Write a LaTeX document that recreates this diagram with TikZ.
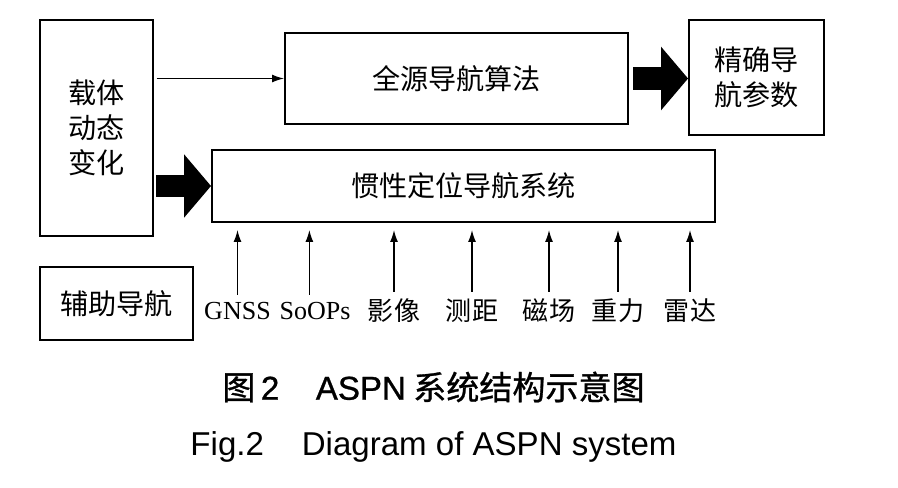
\documentclass[tikz,border=0pt]{standalone}
\usepackage{fontspec}
\setmainfont{Liberation Serif}
\newfontfamily\cjk{Noto Sans CJK SC}
\newfontfamily\cjkcap[FakeBold=0.9]{Noto Sans CJK SC}
\newfontfamily\capsf{Liberation Sans}
\newfontfamily\capsfmed[FakeBold=0.9]{Liberation Sans}
\usetikzlibrary{arrows.meta}
\begin{document}
\begin{tikzpicture}[x=0.025cm, y=-0.025cm,
  every node/.style={font=\cjk\fontsize{20}{25}\selectfont},
  box/.style={draw, line width=1.3pt, align=center, inner sep=0pt},
  src/.style={font=\fontsize{18.5}{22}\selectfont, inner sep=1pt},
  thin/.style={line width=1pt, -{Latex[length=3mm, width=2mm]}},
  fat/.style={line width=0.55cm, -{Triangle[length=0.675cm, width=1.55cm]}}]
  \path[fill=white, use as bounding box] (0,0) rectangle (898,487);
  % boxes
  \node[box, minimum width=2.825cm, minimum height=5.4cm] (body) at (96.5,128) {载体\\动态\\变化};
  \node[box, minimum width=8.575cm, minimum height=2.275cm] (algo) at (456.5,78.5) {全源导航算法};
  \node[box, minimum width=3.375cm, minimum height=2.875cm] (out) at (756.5,77.5) {精确导\\航参数};
  \node[box, minimum width=12.575cm, minimum height=1.8cm] (ins) at (463.5,186) {惯性定位导航系统};
  \node[box, minimum width=3.825cm, minimum height=1.825cm] (aux) at (116.5,303.5) {辅助导航};
  % links
  \draw[thin, shorten <=2pt] (body.east |- algo.west) -- (algo.west);
  \draw[fat, shorten <=1.5pt] (body.east |- ins.west) -- (ins.west);
  \draw[fat, shorten <=3pt] (algo.east) -- (algo.east -| out.west);
  % aiding sources
  \node[src] (gnss) at (237.5,311) {GNSS};
  \node[src] (soops) at (315,311) {SoOPs};
  \node[src] (img) at (394,311) {\cjk 影像};
  \node[src] (rng) at (472,311) {\cjk 测距};
  \node[src] (mag) at (549,311) {\cjk 磁场};
  \node[src] (grav) at (618,311) {\cjk 重力};
  \node[src] (radar) at (690,311) {\cjk 雷达};
  \draw[thin, shorten <=4pt, shorten >=5pt] (gnss.north) -- (gnss.north |- ins.south);
  \draw[thin, shorten <=4pt, shorten >=5pt] ([xshift=-4pt]soops.north) -- ([xshift=-4pt]soops.north |- ins.south);
  \draw[thin, shorten <=4pt, shorten >=5pt] (img.north) -- (img.north |- ins.south);
  \draw[thin, shorten <=4pt, shorten >=5pt] (rng.north) -- (rng.north |- ins.south);
  \draw[thin, shorten <=4pt, shorten >=5pt] (mag.north) -- (mag.north |- ins.south);
  \draw[thin, shorten <=4pt, shorten >=5pt] (grav.north) -- (grav.north |- ins.south);
  \draw[thin, shorten <=4pt, shorten >=5pt] (radar.north) -- (radar.north |- ins.south);
  % caption
  \node[font=\cjkcap\fontsize{23.5}{28}\selectfont] (cap1) at (433.5,387) {图\,{\capsfmed 2}\hspace{26pt}{\capsfmed ASPN} 系统结构示意图};
  \node[font=\capsf\fontsize{23.5}{28}\selectfont] (cap2) at (433.5,447) {Fig.2\hspace{27pt}Diagram of ASPN system};
\end{tikzpicture}
\end{document}
